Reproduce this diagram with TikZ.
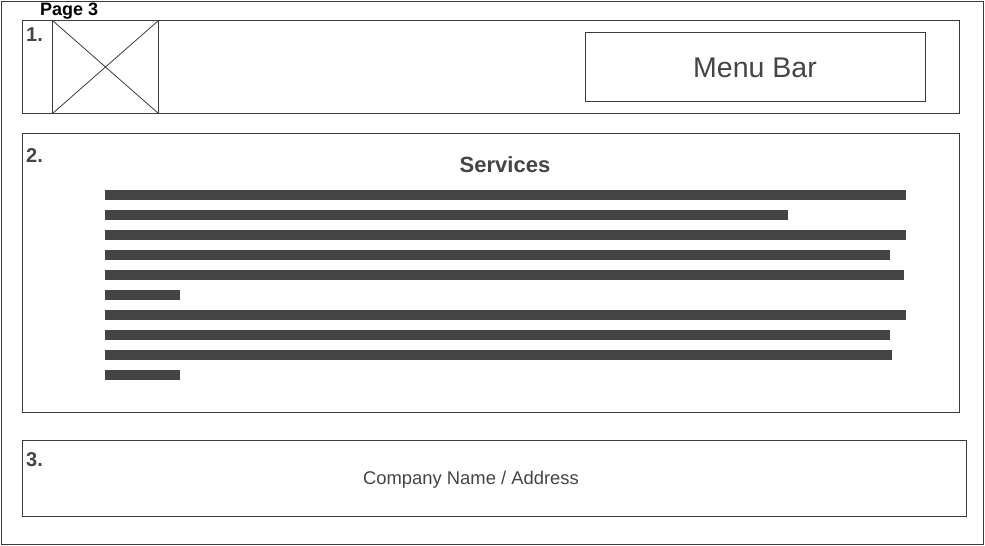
\documentclass[tikz,border=0pt]{standalone}
\usepackage{fontspec}
\setmainfont{Liberation Sans}
\definecolor{ink}{HTML}{444444}
\definecolor{edge}{HTML}{3A3A3A}
\begin{document}
\begin{tikzpicture}[x=1pt,y=-1pt,
  frame/.style={draw=edge,line width=1pt},
  bar/.style={fill=ink,draw=none},
  num/.style={anchor=west,inner sep=0pt,text=ink,font=\bfseries\fontsize{20}{22}\selectfont},
  lbl/.style={inner sep=0pt,text=ink}]
\useasboundingbox (0,0) rectangle (985,546);
% outer page
\draw[frame] (1.5,1.5) rectangle (983.5,544.5);
\node[anchor=west,inner sep=0pt,font=\bfseries\fontsize{18}{20}\selectfont] (title) at (40,11) {Page 3};
% section 1
\draw[frame] (22.5,20.5) rectangle (959.5,113.5);
\draw[edge,line width=0.8pt] (52.5,20.5) rectangle (158.5,113.5);
\draw[edge,line width=0.8pt] (52.5,20.5) -- (158.5,113.5) (158.5,20.5) -- (52.5,113.5);
\node[num] (n1) at (26,35) {1.};
\node[frame,minimum width=340pt,minimum height=69pt,inner sep=0pt] (menu) at (755.5,66.5) {};
\node[lbl,font=\fontsize{28.5}{30}\selectfont] (menutxt) at (755,67.5) {Menu Bar};
% section 2
\draw[frame] (22.5,133.5) rectangle (959.5,412.5);
\node[num] (n2) at (26,156) {2.};
\node[lbl,font=\bfseries\fontsize{22}{24}\selectfont] (services) at (505,164.5) {Services};
\foreach \y/\r in {195/906,215/788,235/906,255/890,275/904,295/180,315/906,335/890,355/892,375/180}
  \fill[bar] (105,\y-5.3) rectangle (\r,\y+5.3);
% section 3
\draw[frame] (22.5,440.5) rectangle (966.5,516.5);
\node[num] (n3) at (26,460) {3.};
\node[lbl,font=\fontsize{18.4}{20}\selectfont] (company) at (471,480) {Company Name / Address};
\end{tikzpicture}
\end{document}
